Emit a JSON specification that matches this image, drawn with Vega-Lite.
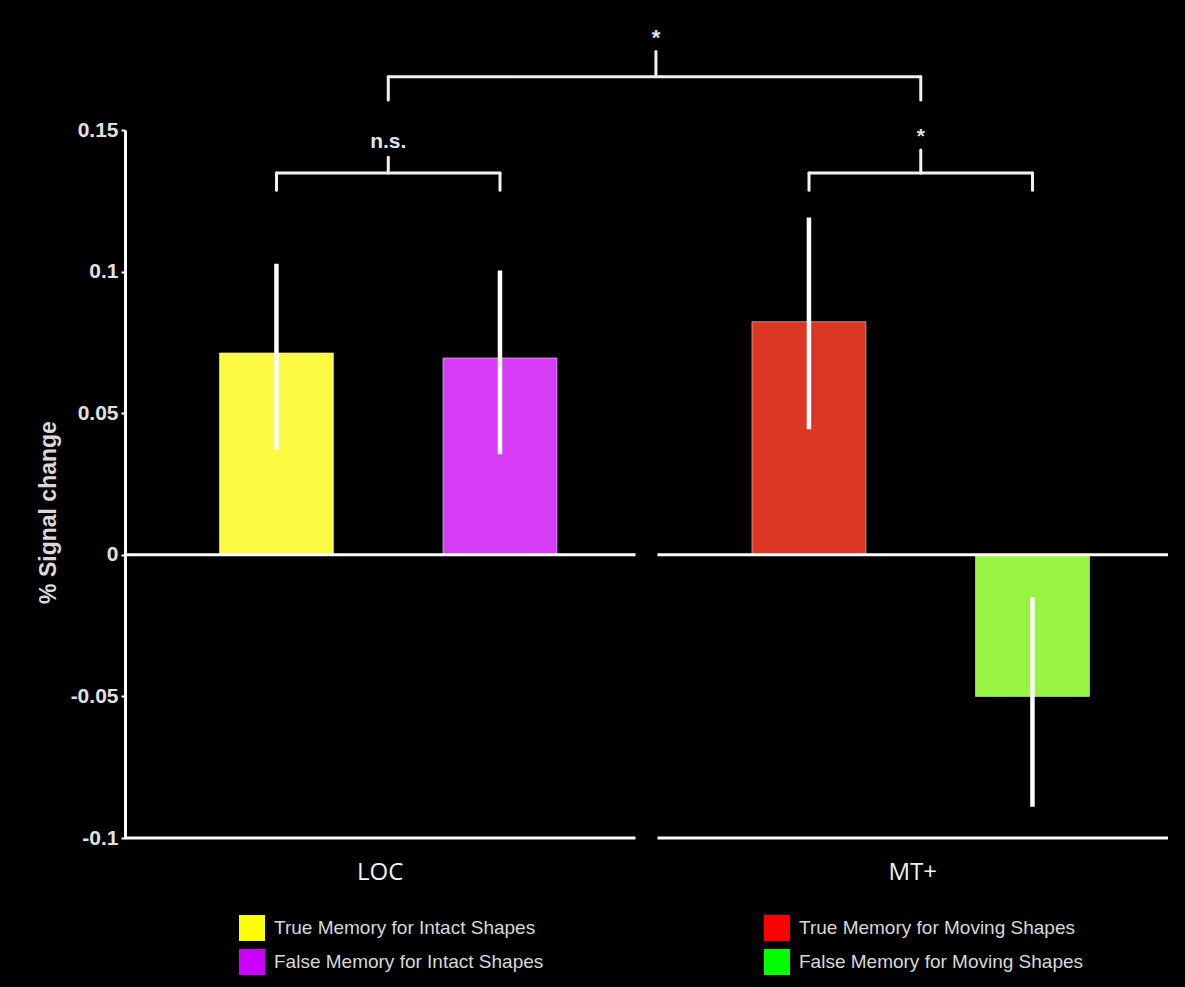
{
  "$schema": "https://vega.github.io/schema/vega-lite/v6.json",
  "width": 1043,
  "height": 708,
  "autosize": {"type": "none"},
  "padding": {"left": 125, "top": 130, "right": 17, "bottom": 149},
  "background": "#000000",
  "config": {"view": {"stroke": null}, "font": "Liberation Sans"},
  "datasets": {
    "bars": [
      {"region": "LOC", "memory": "True", "condition": "True Memory for Intact Shapes", "value": 0.0713, "lo": 0.0372, "hi": 0.1028},
      {"region": "LOC", "memory": "False", "condition": "False Memory for Intact Shapes", "value": 0.0695, "lo": 0.0355, "hi": 0.1004},
      {"region": "MT+", "memory": "True", "condition": "True Memory for Moving Shapes", "value": 0.0823, "lo": 0.0443, "hi": 0.1191},
      {"region": "MT+", "memory": "False", "condition": "False Memory for Moving Shapes", "value": -0.05, "lo": -0.089, "hi": -0.0149}
    ],
    "regions": [{"region": "LOC"}, {"region": "MT+"}],
    "inner": [
      {"region": "LOC", "yh": 0.1348, "yend": 0.1287, "ypeak": 0.1404, "ylab": 0.1457, "label": "n.s."},
      {"region": "MT+", "yh": 0.1348, "yend": 0.1287, "ypeak": 0.1429, "ylab": 0.1475, "label": "*"}
    ],
    "outer": [
      {"from": "LOC", "to": "MT+", "yh": 0.1688, "yend": 0.1606, "ypeak": 0.1777, "ylab": 0.1826, "label": "*"}
    ]
  },
  "layer": [
    {
      "data": {"name": "bars"},
      "mark": {"type": "square", "opacity": 1, "size": 2},
      "encoding": {
        "x": {
          "field": "region", "type": "nominal",
          "scale": {"domain": ["LOC", "MT+"], "paddingInner": 0.0413, "paddingOuter": 0},
          "axis": {"title": null, "domain": false, "ticks": false, "bandPosition": 0.5, "labelAngle": 0, "labelFont": "Open Sans", "labelFontSize": 24, "labelColor": "#f0f0f0", "labelPadding": 22}
        },
        "xOffset": {
          "field": "memory", "type": "nominal", "sort": ["True", "False"],
          "scale": {"domain": ["True", "False"], "paddingInner": 0.49, "paddingOuter": 0.387, "align": 0.546}
        },
        "y": {
          "datum": 0, "type": "quantitative",
          "scale": {"domain": [-0.1, 0.15], "nice": false, "zero": false},
          "axis": {
            "title": "% Signal change", "titleColor": "#d8d8d8", "titleFont": "Liberation Sans", "titleFontSize": 23, "titleFontWeight": "bold", "titlePadding": 10, "titleY": 382,
            "values": [-0.1, -0.05, 0, 0.05, 0.1, 0.15], "labelExpr": "'' + datum.value",
            "labelColor": "#e0e0e0", "labelFontSize": 21, "labelFontWeight": "bold", "labelPadding": 3,
            "grid": false, "domainColor": "#ffffff", "domainWidth": 3, "tickColor": "#ffffff", "tickSize": 4, "tickWidth": 2
          }
        },
        "color": {
          "field": "condition", "type": "nominal",
          "scale": {
            "domain": ["True Memory for Intact Shapes", "True Memory for Moving Shapes", "False Memory for Intact Shapes", "False Memory for Moving Shapes"],
            "range": ["#ffff00", "#ff0000", "#cc00ff", "#00ff00"]
          },
          "legend": {
            "title": null, "orient": "none", "legendX": 114, "legendY": 785, "direction": "horizontal", "columns": 2,
            "symbolType": "square", "symbolSize": 676, "symbolStrokeWidth": 0, "symbolOpacity": 1,
            "labelFont": "Liberation Sans", "labelFontSize": 19, "labelColor": "#d8d8d8", "labelOffset": 9, "labelLimit": 400,
            "columnPadding": 220, "rowPadding": 8, "padding": 0
          }
        }
      }
    },
    {
      "data": {"name": "bars"},
      "mark": {"type": "bar", "stroke": "#ffffff", "strokeWidth": 1, "strokeOpacity": 0.5},
      "encoding": {
        "x": {
          "field": "region", "type": "nominal",
          "axis": {"title": null, "domain": false, "ticks": false, "bandPosition": 0.5, "labelAngle": 0, "labelFont": "Open Sans", "labelFontSize": 24, "labelColor": "#f0f0f0", "labelPadding": 22}
        },
        "xOffset": {"field": "memory", "type": "nominal", "sort": ["True", "False"]},
        "y": {"field": "value", "type": "quantitative", "stack": false},
        "fill": {
          "field": "condition", "type": "nominal",
          "scale": {
            "domain": ["True Memory for Intact Shapes", "True Memory for Moving Shapes", "False Memory for Intact Shapes", "False Memory for Moving Shapes"],
            "range": ["#fdfa42", "#dc3624", "#d63cf6", "#97f542"]
          },
          "legend": null
        }
      }
    },
    {
      "data": {"name": "regions"},
      "mark": {"type": "rule", "color": "#ffffff", "strokeWidth": 3},
      "encoding": {
        "x": {"field": "region", "type": "nominal", "bandPosition": 0},
        "x2": {"field": "region", "bandPosition": 1},
        "y": {"datum": 0, "type": "quantitative"}
      }
    },
    {
      "data": {"name": "regions"},
      "mark": {"type": "rule", "color": "#ffffff", "strokeWidth": 3},
      "encoding": {
        "x": {"field": "region", "type": "nominal", "bandPosition": 0},
        "x2": {"field": "region", "bandPosition": 1},
        "y": {"datum": -0.1, "type": "quantitative"}
      }
    },
    {
      "data": {"name": "bars"},
      "mark": {"type": "rule", "color": "#ffffff", "strokeWidth": 4.5},
      "encoding": {
        "x": {"field": "region", "type": "nominal"},
        "xOffset": {"field": "memory", "type": "nominal", "sort": ["True", "False"]},
        "y": {"field": "lo", "type": "quantitative"},
        "y2": {"field": "hi"}
      }
    },
    {
      "data": {"name": "inner"},
      "mark": {"type": "rule", "color": "#f2f2f2", "strokeWidth": 3, "strokeCap": "round"},
      "encoding": {
        "x": {"field": "region", "type": "nominal", "bandPosition": 0.2968},
        "x2": {"field": "region", "bandPosition": 0.7346},
        "y": {"field": "yh", "type": "quantitative"}
      }
    },
    {
      "data": {"name": "inner"},
      "mark": {"type": "rule", "color": "#f2f2f2", "strokeWidth": 3, "strokeCap": "round"},
      "encoding": {
        "x": {"field": "region", "type": "nominal", "bandPosition": 0.2968},
        "y": {"field": "yh", "type": "quantitative"},
        "y2": {"field": "yend"}
      }
    },
    {
      "data": {"name": "inner"},
      "mark": {"type": "rule", "color": "#f2f2f2", "strokeWidth": 3, "strokeCap": "round"},
      "encoding": {
        "x": {"field": "region", "type": "nominal", "bandPosition": 0.7346},
        "y": {"field": "yh", "type": "quantitative"},
        "y2": {"field": "yend"}
      }
    },
    {
      "data": {"name": "inner"},
      "mark": {"type": "rule", "color": "#f2f2f2", "strokeWidth": 3, "strokeCap": "round"},
      "encoding": {
        "x": {"field": "region", "type": "nominal", "bandPosition": 0.5157},
        "y": {"field": "yh", "type": "quantitative"},
        "y2": {"field": "ypeak"}
      }
    },
    {
      "data": {"name": "inner"},
      "mark": {"type": "text", "color": "#dde4f0", "fontSize": 21, "fontWeight": "bold", "baseline": "middle", "align": "center"},
      "encoding": {
        "x": {"field": "region", "type": "nominal", "bandPosition": 0.5157},
        "y": {"field": "ylab", "type": "quantitative"},
        "text": {"field": "label"}
      }
    },
    {
      "data": {"name": "outer"},
      "mark": {"type": "rule", "color": "#f2f2f2", "strokeWidth": 3, "strokeCap": "round"},
      "encoding": {
        "x": {"field": "from", "type": "nominal", "bandPosition": 0.5157},
        "x2": {"field": "to", "bandPosition": 0.5157},
        "y": {"field": "yh", "type": "quantitative"}
      }
    },
    {
      "data": {"name": "outer"},
      "mark": {"type": "rule", "color": "#f2f2f2", "strokeWidth": 3, "strokeCap": "round"},
      "encoding": {
        "x": {"field": "from", "type": "nominal", "bandPosition": 0.5157},
        "y": {"field": "yh", "type": "quantitative"},
        "y2": {"field": "yend"}
      }
    },
    {
      "data": {"name": "outer"},
      "mark": {"type": "rule", "color": "#f2f2f2", "strokeWidth": 3, "strokeCap": "round"},
      "encoding": {
        "x": {"field": "to", "type": "nominal", "bandPosition": 0.5157},
        "y": {"field": "yh", "type": "quantitative"},
        "y2": {"field": "yend"}
      }
    },
    {
      "data": {"name": "outer"},
      "mark": {"type": "rule", "color": "#f2f2f2", "strokeWidth": 3, "strokeCap": "round"},
      "encoding": {
        "x": {"field": "from", "type": "nominal", "bandPosition": 1.04},
        "y": {"field": "yh", "type": "quantitative"},
        "y2": {"field": "ypeak"}
      }
    },
    {
      "data": {"name": "outer"},
      "mark": {"type": "text", "color": "#dde4f0", "fontSize": 22, "fontWeight": "bold", "baseline": "middle", "align": "center"},
      "encoding": {
        "x": {"field": "from", "type": "nominal", "bandPosition": 1.04},
        "y": {"field": "ylab", "type": "quantitative"},
        "text": {"field": "label"}
      }
    }
  ]
}
